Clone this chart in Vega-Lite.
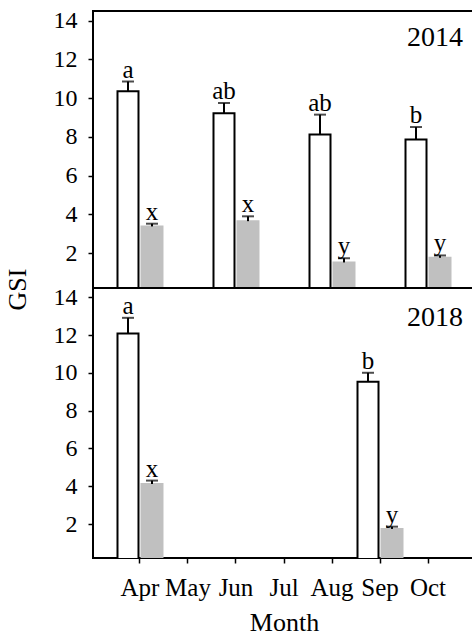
{
  "$schema": "https://vega.github.io/schema/vega-lite/v6.json",
  "background": "white",
  "padding": {"left": 3, "top": 7, "right": 0, "bottom": 0},
  "spacing": 0,
  "bounds": "flush",
  "datasets": {
    "gsi": [
      {"year": 2014, "month": "Apr", "sex": "F", "gsi": 10.36, "upper": 10.86, "letter": "a"},
      {"year": 2014, "month": "Apr", "sex": "M", "gsi": 3.38, "upper": 3.52, "letter": "x"},
      {"year": 2014, "month": "Jun", "sex": "F", "gsi": 9.22, "upper": 9.75, "letter": "ab"},
      {"year": 2014, "month": "Jun", "sex": "M", "gsi": 3.65, "upper": 3.9, "letter": "x"},
      {"year": 2014, "month": "Aug", "sex": "F", "gsi": 8.12, "upper": 9.15, "letter": "ab"},
      {"year": 2014, "month": "Aug", "sex": "M", "gsi": 1.52, "upper": 1.74, "letter": "y"},
      {"year": 2014, "month": "Oct", "sex": "F", "gsi": 7.86, "upper": 8.51, "letter": "b"},
      {"year": 2014, "month": "Oct", "sex": "M", "gsi": 1.76, "upper": 1.88, "letter": "y"},
      {"year": 2018, "month": "Apr", "sex": "F", "gsi": 12.09, "upper": 12.92, "letter": "a"},
      {"year": 2018, "month": "Apr", "sex": "M", "gsi": 4.12, "upper": 4.3, "letter": "x"},
      {"year": 2018, "month": "Sep", "sex": "F", "gsi": 9.53, "upper": 10.01, "letter": "b"},
      {"year": 2018, "month": "Sep", "sex": "M", "gsi": 1.74, "upper": 1.86, "letter": "y"}
    ],
    "years": [
      {"year": 2014, "month": "Oct", "y": 12.7, "label": "2014"},
      {"year": 2018, "month": "Oct", "y": 12.5, "label": "2018"}
    ]
  },
  "vconcat": [
    {
      "width": 382,
      "height": 277,
      "encoding": {
        "x": {"field": "month", "type": "nominal", "scale": {"domain": ["Apr", "May", "Jun", "Jul", "Aug", "Sep", "Oct"], "paddingInner": 0, "paddingOuter": 0.479}, "axis": null}
      },
      "layer": [
        {
          "data": {"name": "gsi"},
          "transform": [{"filter": "datum.year == 2014"}],
          "mark": {"type": "bar", "strokeWidth": 2, "clip": true},
          "encoding": {
            "xOffset": {"field": "sex", "type": "nominal", "scale": {"domain": ["F", "M"], "paddingInner": 0.125, "paddingOuter": 0.0625}},
            "y": {"field": "gsi", "type": "quantitative", "scale": {"domain": [0.2, 14.5], "nice": false, "zero": false},
              "axis": {"values": [2, 4, 6, 8, 10, 12, 14], "title": "GSI", "titleX": -76, "titleY": 278, "titleAlign": "center", "titleBaseline": "middle", "titleAngle": -90}},
            "color": {"field": "sex", "type": "nominal", "scale": {"domain": ["F", "M"], "range": ["white", "#c0c0c0"]}, "legend": null},
            "stroke": {"field": "sex", "type": "nominal", "scale": {"domain": ["F", "M"], "range": ["black", "#c0c0c0"]}, "legend": null}
          }
        },
        {
          "data": {"name": "gsi"},
          "transform": [{"filter": "datum.year == 2014"}],
          "mark": {"type": "rule", "color": "black", "strokeWidth": 2},
          "encoding": {
            "xOffset": {"field": "sex", "type": "nominal"},
            "y": {"field": "gsi", "type": "quantitative"},
            "y2": {"field": "upper"}
          }
        },
        {
          "data": {"name": "gsi"},
          "transform": [{"filter": "datum.year == 2014"}],
          "mark": {"type": "tick", "color": "black", "size": 12, "thickness": 2},
          "encoding": {
            "xOffset": {"field": "sex", "type": "nominal"},
            "y": {"field": "upper", "type": "quantitative"}
          }
        },
        {
          "data": {"name": "gsi"},
          "transform": [{"filter": "datum.year == 2014"}],
          "mark": {"type": "text", "fontSize": 25, "baseline": "alphabetic", "dy": -4, "color": "black"},
          "encoding": {
            "xOffset": {"field": "sex", "type": "nominal"},
            "y": {"field": "upper", "type": "quantitative"},
            "text": {"field": "letter"}
          }
        },
        {
          "data": {"name": "years"},
          "transform": [{"filter": "datum.year == 2014"}],
          "mark": {"type": "text", "fontSize": 28, "baseline": "alphabetic", "align": "center", "dx": 7, "color": "black"},
          "encoding": {
            "y": {"field": "y", "type": "quantitative"},
            "text": {"field": "label"}
          }
        }
      ]
    },
    {
      "width": 382,
      "height": 270,
      "encoding": {
        "x": {"field": "month", "type": "nominal", "scale": {"domain": ["Apr", "May", "Jun", "Jul", "Aug", "Sep", "Oct"], "paddingInner": 0, "paddingOuter": 0.479},
          "axis": {"title": "Month", "labelAngle": 0, "labelFontSize": 25, "titleFontSize": 26, "tickSize": 5, "domain": false, "labelPadding": 12, "titlePadding": 9}}
      },
      "layer": [
        {
          "data": {"name": "gsi"},
          "transform": [{"filter": "datum.year == 2018"}],
          "mark": {"type": "bar", "strokeWidth": 2, "clip": true},
          "encoding": {
            "xOffset": {"field": "sex", "type": "nominal", "scale": {"domain": ["F", "M"], "paddingInner": 0.125, "paddingOuter": 0.0625}},
            "y": {"field": "gsi", "type": "quantitative", "scale": {"domain": [0.2, 14.5], "nice": false, "zero": false},
              "axis": {"values": [2, 4, 6, 8, 10, 12, 14], "title": null}},
            "color": {"field": "sex", "type": "nominal", "scale": {"domain": ["F", "M"], "range": ["white", "#c0c0c0"]}, "legend": null},
            "stroke": {"field": "sex", "type": "nominal", "scale": {"domain": ["F", "M"], "range": ["black", "#c0c0c0"]}, "legend": null}
          }
        },
        {
          "data": {"name": "gsi"},
          "transform": [{"filter": "datum.year == 2018"}],
          "mark": {"type": "rule", "color": "black", "strokeWidth": 2},
          "encoding": {
            "xOffset": {"field": "sex", "type": "nominal"},
            "y": {"field": "gsi", "type": "quantitative"},
            "y2": {"field": "upper"}
          }
        },
        {
          "data": {"name": "gsi"},
          "transform": [{"filter": "datum.year == 2018"}],
          "mark": {"type": "tick", "color": "black", "size": 12, "thickness": 2},
          "encoding": {
            "xOffset": {"field": "sex", "type": "nominal"},
            "y": {"field": "upper", "type": "quantitative"}
          }
        },
        {
          "data": {"name": "gsi"},
          "transform": [{"filter": "datum.year == 2018"}],
          "mark": {"type": "text", "fontSize": 25, "baseline": "alphabetic", "dy": -4, "color": "black"},
          "encoding": {
            "xOffset": {"field": "sex", "type": "nominal"},
            "y": {"field": "upper", "type": "quantitative"},
            "text": {"field": "letter"}
          }
        },
        {
          "data": {"name": "years"},
          "transform": [{"filter": "datum.year == 2018"}],
          "mark": {"type": "text", "fontSize": 28, "baseline": "alphabetic", "align": "center", "dx": 7, "color": "black"},
          "encoding": {
            "y": {"field": "y", "type": "quantitative"},
            "text": {"field": "label"}
          }
        }
      ]
    }
  ],
  "config": {
    "view": {"stroke": "black", "strokeWidth": 2},
    "font": "Liberation Serif",
    "axis": {"labelFont": "Liberation Serif", "titleFont": "Liberation Serif", "labelColor": "black", "titleColor": "black", "titleFontWeight": "normal", "tickColor": "black", "tickWidth": 1.5, "grid": false},
    "axisY": {"domain": false, "tickSize": 5, "labelFontSize": 24, "labelPadding": 11, "titleFontSize": 26},
    "text": {"font": "Liberation Serif"}
  }
}
